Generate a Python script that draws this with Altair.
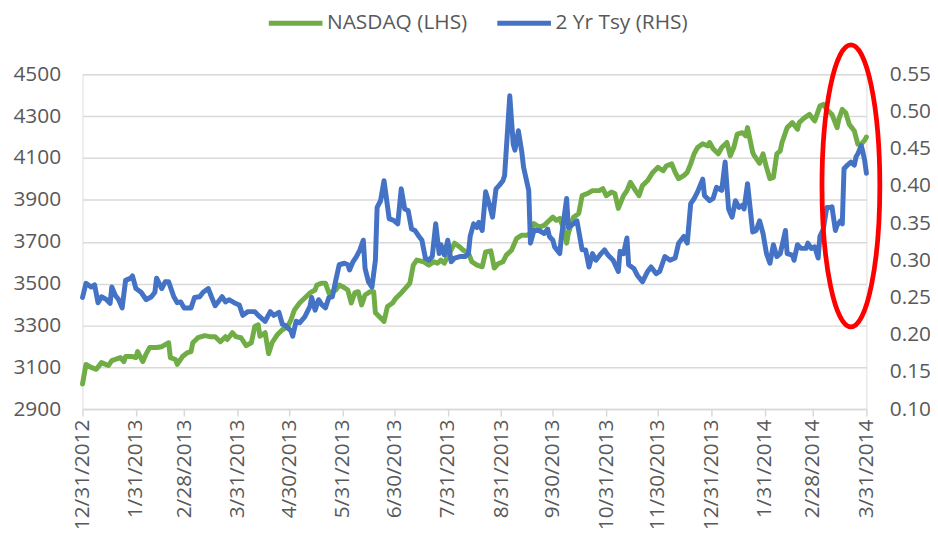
import altair as alt
import pandas as pd

series_names = ["NASDAQ (LHS)", "2 Yr Tsy (RHS)"]
series_colors = ["#70AD47", "#4472C4"]
base_date = "2012-12-31"

# days after 12/31/2012 and index level (left axis)
nasdaq_day = [0, 2, 5, 8, 11, 15, 17, 22, 24, 25,
              29, 31, 32, 35, 37, 39, 43, 46, 48, 50,
              51, 54, 55, 58, 61, 63, 64, 67, 71, 74,
              77, 80, 83, 84, 87, 89, 92, 95, 98, 100,
              102, 103, 106, 108, 110, 113, 116, 119, 121, 123,
              126, 129, 132, 135, 136, 139, 141, 143, 145, 147,
              149, 151, 154, 156, 158, 160, 162, 164, 167, 169,
              170, 173, 175, 177, 180, 182, 185, 188, 190, 192,
              194, 198, 201, 204, 206, 208, 210, 213, 216, 219,
              221, 224, 226, 229, 232, 234, 237, 239, 241, 244,
              246, 249, 252, 255, 258, 260, 262, 265, 268, 271,
              273, 275, 277, 279, 281, 282, 285, 288, 290, 293,
              296, 300, 302, 304, 307, 309, 311, 314, 316, 318,
              321, 323, 325, 328, 331, 334, 337, 339, 342, 344,
              346, 349, 351, 353, 355, 357, 360, 363, 364, 366,
              369, 371, 374, 376, 378, 380, 383, 385, 386, 389,
              390, 393, 395, 397, 399, 401, 403, 405, 406, 409,
              412, 415, 416, 419, 422, 425, 428, 430, 432, 435,
              438, 439, 441, 443, 445, 448, 450, 452, 454, 455]
nasdaq_val = [3020, 3113, 3099, 3090, 3122, 3108, 3132, 3146, 3127, 3151,
              3151, 3146, 3175, 3127, 3165, 3194, 3194, 3198, 3208, 3217,
              3146, 3137, 3113, 3151, 3170, 3175, 3217, 3241, 3251, 3246,
              3246, 3222, 3246, 3232, 3265, 3246, 3241, 3203, 3217, 3295,
              3303, 3248, 3265, 3165, 3217, 3255, 3279, 3293, 3327, 3374,
              3407, 3431, 3455, 3469, 3493, 3502, 3502, 3455, 3461, 3469,
              3493, 3485, 3469, 3407, 3455, 3461, 3398, 3445, 3461, 3461,
              3360, 3336, 3319, 3390, 3407, 3431, 3455, 3483, 3502, 3588,
              3612, 3604, 3588, 3604, 3597, 3612, 3597, 3645, 3693, 3675,
              3659, 3645, 3604, 3588, 3580, 3651, 3656, 3574, 3593, 3604,
              3636, 3659, 3716, 3731, 3731, 3740, 3787, 3770, 3778, 3802,
              3817, 3802, 3811, 3770, 3693, 3740, 3817, 3835, 3920, 3930,
              3944, 3944, 3954, 3920, 3937, 3930, 3859, 3920, 3944, 3984,
              3944, 3920, 3968, 3992, 4031, 4055, 4039, 4063, 4072, 4031,
              4001, 4016, 4031, 4072, 4120, 4150, 4168, 4158, 4174, 4144,
              4120, 4150, 4174, 4110, 4150, 4214, 4221, 4206, 4245, 4126,
              4110, 4075, 4120, 4055, 4001, 4007, 4120, 4134, 4174, 4245,
              4269, 4237, 4269, 4292, 4308, 4277, 4348, 4356, 4332, 4308,
              4245, 4285, 4332, 4316, 4261, 4229, 4166, 4166, 4185, 4200]

# days after 12/31/2012 and 2-year Treasury yield (right axis)
tsy_day = [0, 2, 5, 7, 9, 11, 14, 16, 17, 19,
           21, 23, 25, 28, 29, 31, 34, 37, 40, 42,
           43, 46, 48, 50, 53, 55, 57, 59, 63, 65,
           68, 70, 73, 75, 77, 81, 83, 85, 88, 91,
           93, 96, 100, 102, 106, 109, 111, 114, 116, 118,
           121, 122, 124, 126, 129, 132, 133, 135, 137, 139,
           141, 143, 145, 147, 149, 152, 154, 155, 157, 159,
           161, 163, 164, 166, 168, 170, 171, 173, 175, 178,
           181, 183, 185, 187, 189, 191, 193, 195, 197, 199,
           201, 203, 205, 207, 208, 210, 212, 214, 216, 219,
           222, 224, 225, 227, 229, 230, 232, 234, 236, 238,
           240, 242, 244, 245, 248, 250, 251, 253, 255, 256,
           259, 260, 262, 265, 268, 270, 271, 273, 274, 277,
           278, 281, 282, 285, 287, 290, 292, 294, 296, 298,
           301, 303, 305, 308, 311, 312, 314, 316, 317, 320,
           322, 325, 328, 330, 333, 335, 338, 341, 344, 346,
           349, 351, 353, 355, 357, 360, 361, 364, 366, 368,
           371, 373, 375, 377, 379, 381, 383, 384, 386, 389,
           391, 393, 395, 397, 399, 401, 403, 405, 408, 409,
           412, 413, 415, 417, 420, 421, 423, 425, 427, 428,
           430, 432, 434, 435, 437, 438, 440, 441, 442, 444,
           446, 448, 449, 450, 452, 453, 454, 455]
tsy_val = [0.250, 0.269, 0.264, 0.267, 0.243, 0.251, 0.247, 0.242, 0.264, 0.253,
           0.247, 0.236, 0.273, 0.276, 0.279, 0.262, 0.257, 0.247, 0.251, 0.257,
           0.276, 0.262, 0.271, 0.271, 0.251, 0.243, 0.244, 0.236, 0.236, 0.250,
           0.251, 0.257, 0.262, 0.250, 0.239, 0.251, 0.244, 0.247, 0.243, 0.240,
           0.226, 0.231, 0.231, 0.226, 0.218, 0.231, 0.226, 0.230, 0.214, 0.212,
           0.205, 0.198, 0.218, 0.216, 0.224, 0.238, 0.250, 0.233, 0.247, 0.240,
           0.236, 0.250, 0.251, 0.273, 0.294, 0.296, 0.294, 0.287, 0.298, 0.305,
           0.314, 0.327, 0.289, 0.271, 0.264, 0.300, 0.371, 0.380, 0.407, 0.356,
           0.353, 0.349, 0.396, 0.369, 0.367, 0.342, 0.340, 0.333, 0.327, 0.303,
           0.300, 0.305, 0.349, 0.309, 0.321, 0.307, 0.327, 0.298, 0.303, 0.305,
           0.305, 0.309, 0.332, 0.349, 0.344, 0.351, 0.340, 0.392, 0.376, 0.358,
           0.396, 0.401, 0.407, 0.414, 0.521, 0.456, 0.448, 0.474, 0.445, 0.425,
           0.394, 0.323, 0.340, 0.340, 0.336, 0.342, 0.332, 0.327, 0.318, 0.309,
           0.332, 0.383, 0.344, 0.349, 0.353, 0.314, 0.314, 0.291, 0.309, 0.300,
           0.309, 0.314, 0.307, 0.300, 0.285, 0.312, 0.309, 0.330, 0.294, 0.289,
           0.280, 0.271, 0.285, 0.291, 0.282, 0.285, 0.305, 0.300, 0.303, 0.323,
           0.332, 0.323, 0.376, 0.383, 0.392, 0.409, 0.387, 0.380, 0.383, 0.398,
           0.394, 0.432, 0.369, 0.358, 0.380, 0.371, 0.374, 0.369, 0.403, 0.338,
           0.340, 0.353, 0.336, 0.309, 0.296, 0.321, 0.305, 0.309, 0.340, 0.309,
           0.307, 0.300, 0.321, 0.316, 0.316, 0.323, 0.316, 0.318, 0.303, 0.332,
           0.342, 0.371, 0.371, 0.372, 0.340, 0.347, 0.353, 0.349, 0.423, 0.428,
           0.432, 0.428, 0.439, 0.443, 0.454, 0.445, 0.434, 0.417]

x_ticks = ["2012-12-31", "2013-01-31", "2013-02-28", "2013-03-31", "2013-04-30",
           "2013-05-31", "2013-06-30", "2013-07-31", "2013-08-31", "2013-09-30",
           "2013-10-31", "2013-11-30", "2013-12-31", "2014-01-31", "2014-02-28",
           "2014-03-31"]
left_ticks = [2900, 3100, 3300, 3500, 3700, 3900, 4100, 4300, 4500]
right_ticks = [0.10, 0.15, 0.20, 0.25, 0.30, 0.35, 0.40, 0.45, 0.50, 0.55]

# highlight ellipse (annotation) centred on this date / yield level
ellipse_date = ["2014-03-22"]
ellipse_level = [0.40]

FONT = "Open Sans"
GRAY = "#595959"
GRID = "#D9D9D9"

base = pd.Timestamp(base_date)
nasdaq_df = pd.DataFrame({
    "date": base + pd.to_timedelta(nasdaq_day, unit="D"),
    "value": nasdaq_val,
    "series": series_names[0],
})
tsy_df = pd.DataFrame({
    "date": base + pd.to_timedelta(tsy_day, unit="D"),
    "value": tsy_val,
    "series": series_names[1],
})
ell_df = pd.DataFrame({"date": pd.to_datetime(ellipse_date), "value": ellipse_level})

# tick positions as timestamps (ms)
tick_ms = [int(t.value // 10**6) for t in pd.to_datetime(x_ticks)]

x_scale = alt.Scale(domain=[tick_ms[0], tick_ms[-1]], nice=False)
x_axis = alt.Axis(
    values=tick_ms, format="%-m/%-d/%Y", title=None,
    labelAngle=-90, labelAlign="right", labelBaseline="middle",
    labelOverlap=False, labelFlush=False, labelFont=FONT, labelFontSize=21,
    labelColor=GRAY, labelPadding=3, domain=True, domainColor=GRID,
    domainWidth=1.5, ticks=True, tickColor=GRID, tickWidth=1.5, tickSize=7,
    grid=False,
)
x_enc = alt.X("date:T", scale=x_scale, axis=x_axis)

left_scale = alt.Scale(domain=[2900, 4500], nice=False, zero=False)
right_scale = alt.Scale(domain=[0.10, 0.55], nice=False, zero=False)

y_left = alt.Y("value:Q", scale=left_scale, axis=alt.Axis(
    orient="left", values=left_ticks, format="d", title=None, domain=False,
    ticks=False, labelPadding=22, labelFont=FONT, labelFontSize=21,
    labelColor=GRAY, grid=True, gridColor=GRID, gridWidth=1.5))
y_right = alt.Y("value:Q", scale=right_scale, axis=alt.Axis(
    orient="right", values=right_ticks, format=".2f", title=None, domain=False,
    ticks=False, labelPadding=23, labelFont=FONT, labelFontSize=21,
    labelColor=GRAY, grid=False))
y_right_noaxis = alt.Y("value:Q", scale=right_scale, axis=None)

color_enc = alt.Color("series:N", scale=alt.Scale(domain=series_names, range=series_colors),
                      legend=alt.Legend(
                          title=None, orient="none", direction="horizontal",
                          legendX=185, legendY=-81, padding=0,
                          symbolType="stroke", symbolSize=2916, symbolStrokeWidth=5,
                          labelFont=FONT, labelFontSize=21, labelColor=GRAY,
                          labelOffset=2, columnPadding=19))

line_style = dict(strokeWidth=5, strokeCap="round", strokeJoin="round")

nasdaq = alt.Chart(nasdaq_df).mark_line(**line_style).encode(
    x=x_enc, y=y_left, color=color_enc)
tsy = alt.Chart(tsy_df).mark_line(**line_style).encode(
    x=x_enc, y=y_right, color=color_enc)

ELLIPSE = "M0,-1A0.205,1,0,1,1,0,1A0.205,1,0,1,1,0,-1Z"
ellipse = alt.Chart(ell_df).mark_point(
    shape=ELLIPSE, size=80656, filled=False, color="#FF0000",
    strokeWidth=4.8, opacity=1).encode(x=x_enc, y=y_right_noaxis)

chart = alt.layer(nasdaq, tsy, ellipse).resolve_scale(
    y="independent"
).properties(
    width=789, height=337,
    autosize=alt.AutoSizeParams(type="none"),
    padding={"left": 75, "top": 65, "right": 64, "bottom": 120},
).configure_view(stroke=None).configure(background="white")

chart.save("out.html", embed_options={"renderer": "svg", "actions": False})
